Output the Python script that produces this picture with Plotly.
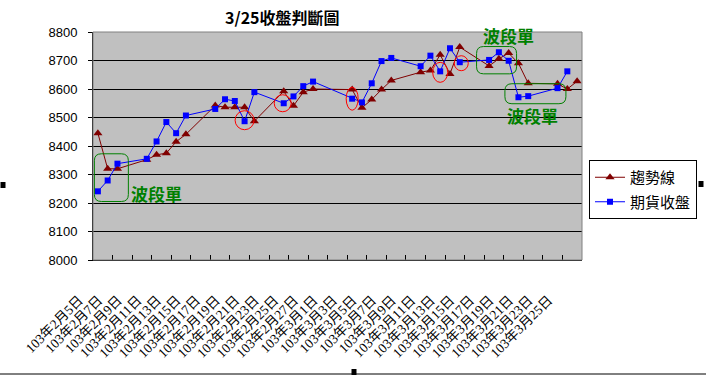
import datetime as dt
import plotly.graph_objects as go

# ---------------- data ----------------
dates = ["2014-02-05", "2014-02-06", "2014-02-07", "2014-02-10", "2014-02-11", "2014-02-12",
         "2014-02-13", "2014-02-14", "2014-02-17", "2014-02-18", "2014-02-19", "2014-02-20",
         "2014-02-21", "2014-02-24", "2014-02-25", "2014-02-26", "2014-02-27", "2014-03-03",
         "2014-03-04", "2014-03-05", "2014-03-06", "2014-03-07", "2014-03-10", "2014-03-11",
         "2014-03-12", "2014-03-13", "2014-03-14", "2014-03-17", "2014-03-18", "2014-03-19",
         "2014-03-20", "2014-03-21", "2014-03-24", "2014-03-25"]
trend_dates = dates + ["2014-03-26"]

futures_close = [8241, 8279, 8338, 8355, 8416, 8484, 8445, 8507,
                 8530, 8564, 8558, 8487, 8589,
                 8550, 8574, 8610, 8626,
                 8566, 8553, 8620, 8698, 8709,
                 8680, 8717, 8662, 8743, 8694,
                 8702, 8729, 8699, 8571, 8575,
                 8603, 8662]

trend_line = [8445, 8320, 8320, 8352, 8369, 8375, 8415, 8441,
              8542, 8536, 8536, 8536, 8487,
              8592, 8541, 8589, 8600,
              8598, 8534, 8563, 8598, 8630,
              8659, 8665, 8720, 8653, 8747,
              8681, 8706, 8726, 8690, 8620,
              8618, 8600, 8627]

tick_dates = ["2014-02-05", "2014-02-07", "2014-02-09", "2014-02-11", "2014-02-13", "2014-02-15",
              "2014-02-17", "2014-02-19", "2014-02-21", "2014-02-23", "2014-02-25", "2014-02-27",
              "2014-03-01", "2014-03-03", "2014-03-05", "2014-03-07", "2014-03-09", "2014-03-11",
              "2014-03-13", "2014-03-15", "2014-03-17", "2014-03-19", "2014-03-21", "2014-03-23",
              "2014-03-25"]
tick_labels = ["103年2月5日", "103年2月7日", "103年2月9日", "103年2月11日", "103年2月13日",
               "103年2月15日", "103年2月17日", "103年2月19日", "103年2月21日", "103年2月23日",
               "103年2月25日", "103年2月27日", "103年3月1日", "103年3月3日", "103年3月5日",
               "103年3月7日", "103年3月9日", "103年3月11日", "103年3月13日", "103年3月15日",
               "103年3月17日", "103年3月19日", "103年3月21日", "103年3月23日", "103年3月25日"]

title_text = "3/25收盤判斷圖"
band_text = "波段單"
name_trend = "趨勢線"
name_close = "期貨收盤"

# circled points (dates in futures_close)
circled = ["2014-02-20", "2014-02-24", "2014-03-03", "2014-03-12", "2014-03-14"]
# boxed groups anchor dates
boxed = ["2014-02-06", "2014-03-18", "2014-03-21"]

# ---------------- layout helpers ----------------
W_FIG, H_FIG = 706, 376
L, T, PW, PH = 93, 32, 489, 228
B = H_FIG - T - PH
R = W_FIG - L - PW


def px(xp):
    return (xp - L) / PW


def py(yp):
    return (T + PH - yp) / PH


def half_day_before(s):
    d = dt.datetime.strptime(s, "%Y-%m-%d") - dt.timedelta(hours=12)
    return d.strftime("%Y-%m-%d %H:%M")


tick_vals = [half_day_before(s) for s in tick_dates]
x_range = [half_day_before(dates[0]), half_day_before("2014-03-27")]

CJK = "Noto Sans CJK TC"
DARKRED = "#800000"
BLUE = "#0000FF"
GREEN = "#008000"

fig = go.Figure()
fig.add_trace(go.Scatter(
    x=trend_dates, y=trend_line, name=name_trend, mode="lines+markers",
    line=dict(color=DARKRED, width=1),
    marker=dict(symbol="triangle-up", size=8, color=DARKRED),
    legendgroup="a"))
fig.add_trace(go.Scatter(
    x=dates, y=futures_close, name=name_close, mode="lines+markers",
    line=dict(color=BLUE, width=1),
    marker=dict(symbol="square", size=6, color=BLUE),
    legendgroup="b"))

close_map = dict(zip(dates, futures_close))
shapes = []

# red ellipses around points (pixel offsets dx, dy(up), w, h)
ell = [(0, 1, 19, 19), (-1, 0, 17, 17), (0, 0, 12, 23), (0, -1, 15, 20), (1.5, -1, 14, 15)]
for d, (dx, dy, w, h) in zip(circled, ell):
    shapes.append(dict(type="circle", xref="x", yref="y", xsizemode="pixel", ysizemode="pixel",
                       xanchor=d, yanchor=close_map[d],
                       x0=dx - w / 2, x1=dx + w / 2, y0=dy - h / 2, y1=dy + h / 2,
                       line=dict(color="#FF0000", width=1), layer="above"))


def rrect(x0, x1, y0, y1, r=7):
    return (f"M {x0 + r},{y0} L {x1 - r},{y0} Q {x1},{y0} {x1},{y0 + r} "
            f"L {x1},{y1 - r} Q {x1},{y1} {x1 - r},{y1} L {x0 + r},{y1} "
            f"Q {x0},{y1} {x0},{y1 - r} L {x0},{y0 + r} Q {x0},{y0} {x0 + r},{y0} Z")


rects = [(-13.3, 20.7, -21, 26.7), (-22.3, 17.7, -21.6, 5.7), (-23.3, 37.7, -7.6, 12.4)]
for d, (x0, x1, y0, y1) in zip(boxed, rects):
    shapes.append(dict(type="path", xref="x", yref="y", xsizemode="pixel", ysizemode="pixel",
                       xanchor=d, yanchor=close_map[d], path=rrect(x0, x1, y0, y1),
                       line=dict(color=GREEN, width=1), layer="above"))

# plot-area border
shapes.append(dict(type="rect", xref="paper", yref="paper", x0=0, x1=1, y0=0, y1=1,
                   line=dict(color="#808080", width=1), layer="above"))
# chart frame bottom line and selection handles
shapes.append(dict(type="line", xref="paper", yref="paper", x0=px(0), x1=px(706),
                   y0=py(374), y1=py(374), line=dict(color="black", width=1)))
for hx, hy in [(3, 185), (701, 184), (354, 372)]:
    shapes.append(dict(type="rect", xref="paper", yref="paper",
                       x0=px(hx - 2.5), x1=px(hx + 2.5), y0=py(hy + 3), y1=py(hy - 3),
                       fillcolor="black", line=dict(width=0)))

annotations = [
    dict(text=f"<b>{title_text}</b>", xref="paper", yref="paper", x=px(282), y=py(17),
         showarrow=False, font=dict(family=CJK, size=16, color="black"),
         xanchor="center", yanchor="middle"),
]
for cx, cy in [(156.7, 193), (508, 35), (532, 115)]:
    annotations.append(dict(text=f"<b>{band_text}</b>", xref="paper", yref="paper",
                            x=px(cx), y=py(cy), showarrow=False,
                            font=dict(family=CJK, size=17, color=GREEN),
                            xanchor="center", yanchor="middle"))

fig.update_layout(
    width=W_FIG, height=H_FIG,
    margin=dict(l=L, r=R, t=T, b=B, pad=0, autoexpand=False),
    paper_bgcolor="white", plot_bgcolor="#C0C0C0",
    showlegend=True,
    legend=dict(x=px(589), y=py(160), xanchor="left", yanchor="top",
                bgcolor="white", bordercolor="black", borderwidth=1,
                font=dict(family=CJK, size=15, color="black"),
                tracegroupgap=2, itemwidth=30),
    xaxis=dict(type="date", range=x_range, tickmode="array", tickvals=tick_vals,
               ticktext=tick_labels, tickangle=-45, ticks="inside", ticklen=5,
               tickcolor="black", showgrid=False, showline=True, linecolor="black",
               linewidth=1, zeroline=False, automargin=False,
               ticklabelshift=-14, ticklabelstandoff=26,
               tickfont=dict(family="Liberation Serif, " + CJK, size=13.5, color="black")),
    yaxis=dict(range=[8000, 8800], tick0=8000, dtick=100, ticks="outside", ticklen=4,
               tickcolor="black", showgrid=True, gridcolor="black", gridwidth=1,
               showline=True, linecolor="black", linewidth=1, zeroline=False,
               automargin=False, ticklabelstandoff=8,
               tickfont=dict(family="Liberation Sans, Arial", size=13, color="black")),
    shapes=shapes, annotations=annotations,
    hovermode=False,
)

fig.write_html("out.html", config={"displayModeBar": False},
               post_script="document.body.style.margin='0';document.body.style.overflow='hidden';")
